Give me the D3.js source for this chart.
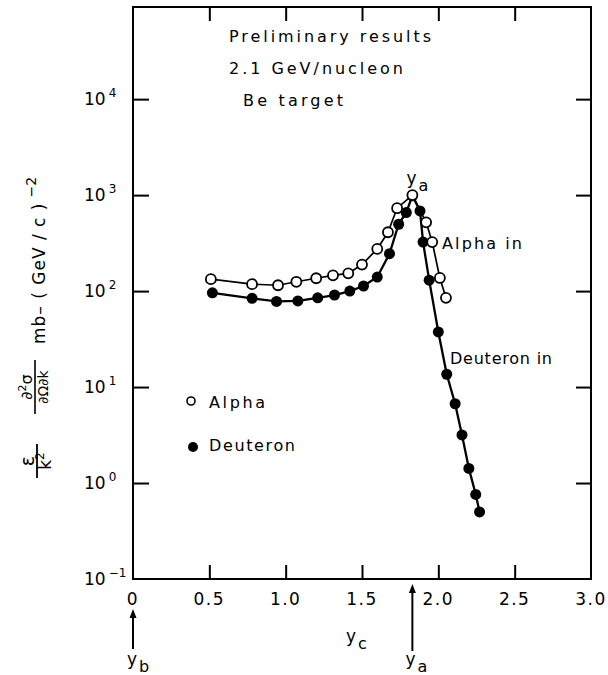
<!DOCTYPE html>
<html>
<head>
<meta charset="utf-8">
<script src="https://cdn.jsdelivr.net/npm/d3@7"></script>
<style>
body{margin:0;background:#fff}
text{font-family:"DejaVu Sans",sans-serif;fill:#000}
</style>
</head>
<body>
<svg id="chart" width="608" height="675"></svg>
<script>
// --- data (y_c vs cross section) ---
var alphaX=[0.51,0.78,0.95,1.07,1.20,1.31,1.41,1.50,1.60,1.67,1.73,1.83,1.92,1.96,2.01,2.05]
var alphaY=[133,118,115,125,136,146,153,189,275,410,730,1000,520,324,137,85]

var deutX=[0.52,0.78,0.94,1.08,1.21,1.32,1.42,1.51,1.60,1.68,1.74,1.79,1.83,1.88,1.90,1.94,2.00,2.055,2.11,2.155,2.20,2.245,2.27]
var deutY=[96,84,78,79,85,91,100,113,140,245,497,659,985,685,324,130,37.5,13.6,6.7,3.17,1.42,0.76,0.50]

var xTicks=[0,0.5,1.0,1.5,2.0,2.5,3.0]
var xTickLabels=["0","0.5","1.0","1.5","2.0","2.5","3.0"]
var xInnerTicks=[0.5,1.0,1.5,2.0,2.5]
var yExponents=[4,3,2,1,0,-1]
var yInnerTicks=[1,10,100,1000,10000]
var yBeam=0      // y_b
var yProj=1.83   // y_a

// plot box ("top" is taken by window.top, so prefix everything)
var boxLeft=133,boxRight=591,boxTop=7,boxBottom=579

var svg=d3.select("#chart")

var xScale=d3.scaleLinear()
    .domain([0,3])
    .range([boxLeft,boxRight])

var yScale=d3.scaleLog()
    .domain([0.1,Math.pow(10,4.96)])
    .range([boxBottom,boxTop])

// frame
svg.append("rect")
 .attr("x",boxLeft)
 .attr("y",boxTop)
 .attr("width",boxRight-boxLeft)
 .attr("height",boxBottom-boxTop)
 .attr("fill","none")
 .attr("stroke","black")
 .attr("stroke-width",2)

// inward ticks on all four sides
function tickGroup(axis,tx,ty){
  var g=svg.append("g")
    .attr("transform","translate("+tx+","+ty+")")
    .call(axis)
  g.select(".domain").remove()
  g.selectAll(".tick line").attr("stroke","black").attr("stroke-width",2)
  return g
}
tickGroup(d3.axisRight(yScale).tickValues(yInnerTicks).tickSize(16).tickFormat(""),boxLeft,0)
tickGroup(d3.axisLeft(yScale).tickValues(yInnerTicks).tickSize(15).tickFormat(""),boxRight,0)
tickGroup(d3.axisBottom(xScale).tickValues(xInnerTicks).tickSize(14).tickFormat(""),0,boxTop)
tickGroup(d3.axisTop(xScale).tickValues(xInnerTicks).tickSize(14).tickFormat(""),0,boxBottom)

// y tick labels 10^n
yExponents.forEach(function(e){
  var t=svg.append("text")
    .attr("x",84)
    .attr("y",yScale(Math.pow(10,e))+6)
    .attr("font-size","17px")
  t.append("tspan").text("10")
  t.append("tspan").attr("dx",3).attr("dy",-8).attr("font-size","12px").text(e<0?"−"+(-e):e)
})

// x tick labels
svg.selectAll(".xlab")
  .data(xTicks)
  .enter().append("text")
  .attr("class","xlab")
  .attr("x",function(d){return xScale(d)})
  .attr("y",boxBottom+26)
  .attr("text-anchor","middle")
  .attr("font-size","17px")
  .attr("letter-spacing","1.5px")
  .text(function(d,i){return xTickLabels[i]})

// lines
var line=d3.line()
  .x(function(d){return xScale(d[0])})
  .y(function(d){return yScale(d[1])})

var alphaPts=alphaX.map(function(x,i){return [x,alphaY[i]]})
var deutPts=deutX.map(function(x,i){return [x,deutY[i]]})

svg.append("path").datum(deutPts)
  .attr("d",line).attr("fill","none").attr("stroke","black").attr("stroke-width",2.3)
svg.append("path").datum(alphaPts)
  .attr("d",line).attr("fill","none").attr("stroke","black").attr("stroke-width",1.7)

svg.selectAll(".dpt").data(deutPts).enter().append("circle")
  .attr("class","dpt")
  .attr("cx",function(d){return xScale(d[0])})
  .attr("cy",function(d){return yScale(d[1])})
  .attr("r",5.5)
  .attr("fill","black")

svg.selectAll(".apt").data(alphaPts).enter().append("circle")
  .attr("class","apt")
  .attr("cx",function(d){return xScale(d[0])})
  .attr("cy",function(d){return yScale(d[1])})
  .attr("r",5)
  .attr("fill","white")
  .attr("stroke","black")
  .attr("stroke-width",1.8)

// annotations
function label(txt,x,y,w,size){
  var t=svg.append("text").attr("x",x).attr("y",y)
    .attr("font-size",(size||16)+"px").text(txt)
  if(w) t.attr("textLength",w).attr("lengthAdjust","spacing")
  return t
}
label("Preliminary results",229,42,202)
label("2.1 GeV/nucleon",229,74,174)
label("Be target",243,106,100)
label("Alpha in",442,249,80)
label("Deuteron in",450,364,102)
label("Alpha",209,408,56)
label("Deuteron",209,451,86)

svg.append("circle").attr("cx",191).attr("cy",401).attr("r",4)
  .attr("fill","white").attr("stroke","black").attr("stroke-width",1.6)
svg.append("circle").attr("cx",193).attr("cy",447).attr("r",5)
  .attr("fill","black")

function subLabel(main,sub,x,y){
  var t=svg.append("text").attr("x",x).attr("y",y).attr("font-size","17px")
  t.append("tspan").text(main)
  t.append("tspan").attr("dx",2).attr("dy",7).attr("font-size","16px").text(sub)
}
subLabel("y","a",xScale(yProj)-6,184)
subLabel("y","c",346,642)
subLabel("y","b",xScale(yBeam)-6,665)
subLabel("y","a",xScale(yProj)-7,665)

// arrows y_b and y_a under the axis
function upArrow(x,y1,y2){
  svg.append("line").attr("x1",x).attr("x2",x).attr("y1",y2).attr("y2",y1+6)
    .attr("stroke","black").attr("stroke-width",2)
  svg.append("path")
    .attr("d","M"+x+","+y1+"L"+(x-3.5)+","+(y1+9)+"L"+(x+3.5)+","+(y1+9)+"Z")
    .attr("fill","black")
}
upArrow(xScale(yBeam),609,649)
upArrow(xScale(yProj),584,651)

// rotated y axis title
var tg=svg.append("g").attr("transform","translate(36,0) rotate(-90)")
tg.append("line").attr("x1",-478).attr("x2",-444).attr("y1",1).attr("y2",1)
  .attr("stroke","black").attr("stroke-width",1.8)
tg.append("text").attr("x",-461).attr("y",-2).attr("text-anchor","middle")
  .attr("font-size","19px").text("ε")
var kt=tg.append("text").attr("x",-461).attr("y",15).attr("text-anchor","middle")
  .attr("font-size","17px")
kt.append("tspan").text("k")
kt.append("tspan").attr("dy",-7).attr("font-size","12px").text("2")

tg.append("line").attr("x1",-414).attr("x2",-360).attr("y1",-1).attr("y2",-1)
  .attr("stroke","black").attr("stroke-width",1.6)
var nt=tg.append("text").attr("x",-387).attr("y",-4).attr("text-anchor","middle")
  .attr("font-size","16px")
nt.append("tspan").text("∂")
nt.append("tspan").attr("dy",-6).attr("font-size","11px").text("2")
nt.append("tspan").attr("dy",6).text("σ")
tg.append("text").attr("x",-387).attr("y",12).attr("text-anchor","middle")
  .attr("font-size","14px").text("∂Ω∂k")

var mt=tg.append("text").attr("x",-344).attr("y",9).attr("font-size","17px")
mt.append("tspan").attr("letter-spacing","1px").text("mb– ( GeV / c )")
mt.append("tspan").attr("dx",5).attr("dy",-9).attr("font-size","14px").text("−2")
</script>
</body>
</html>
